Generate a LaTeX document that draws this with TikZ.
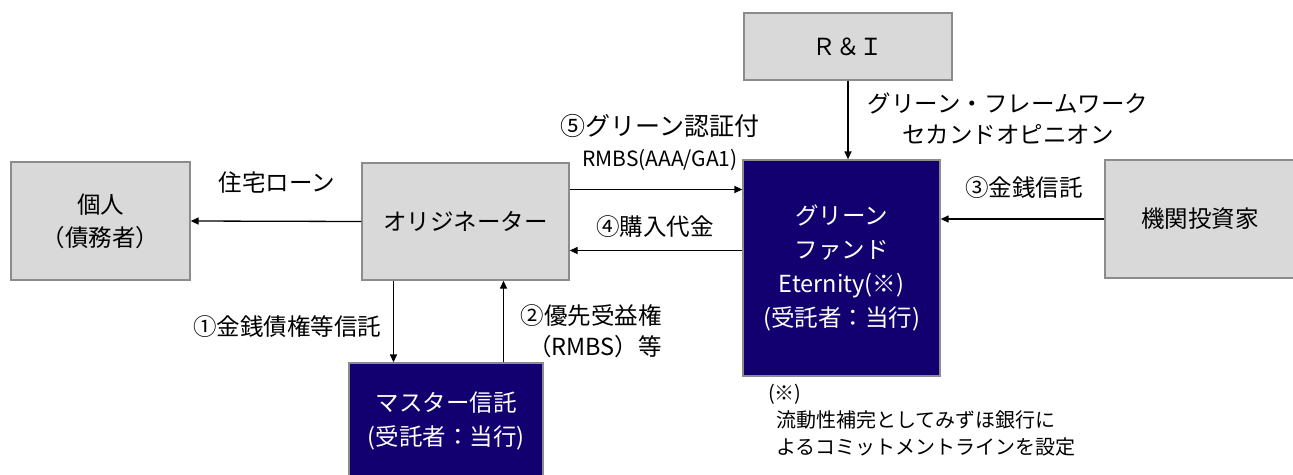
\documentclass[tikz,border=0pt]{standalone}
\usepackage{fontspec}
\setmainfont{Noto Sans CJK JP}
\usetikzlibrary{arrows.meta}

\definecolor{boxgray}{RGB}{217,217,217}
\definecolor{edgegray}{RGB}{140,140,140}
\definecolor{fundnavy}{RGB}{18,0,112}

\begin{document}
\begin{tikzpicture}[x=1pt,y=-1pt,>={Triangle[length=8pt,width=7pt]},
    graybox/.style={draw=edgegray,line width=1.3pt,fill=boxgray,inner sep=0pt,align=center,font=\fontsize{23.5}{33}\selectfont},
    navybox/.style={draw=edgegray,line width=1.3pt,fill=fundnavy,text=white,inner sep=0pt,align=center,font=\fontsize{23.5}{34}\selectfont},
    lbl/.style={inner sep=0pt,align=center,font=\fontsize{23.5}{31}\selectfont},
    flow/.style={->,line width=1.3pt}]
    \useasboundingbox (0,0) rectangle (1293,474);

    \node[graybox,minimum width=179pt,minimum height=118pt] (kojin) at (100.5,221) {個人\\（債務者）};
    \node[graybox,minimum width=207pt,minimum height=117pt] (orig) at (465.5,221.5) {オリジネーター};
    \node[navybox,minimum width=194pt,minimum height=116pt] (master) at (446,421) {マスター信託\\(受託者：当行)};
    \node[navybox,minimum width=197pt,minimum height=216pt] (fund) at (841.5,268) {グリーン\\ファンド\\Eternity(※)\\(受託者：当行)};
    \node[graybox,minimum width=208pt,minimum height=67pt] (ri) at (848,46.5) {Ｒ＆Ｉ};
    \node[graybox,minimum width=190pt,minimum height=118pt] (inv) at (1200,219) {機関投資家};

    \draw[flow] (orig.west) -- (kojin.east);
    \draw[flow] (ri.south) -- (ri.south |- fund.north);
    \draw[flow] ([yshift=32pt]orig.east) -- ([yshift=32pt]orig.east -| fund.west);
    \draw[flow] ([yshift=-29pt]orig.east -| fund.west) -- ([yshift=-29pt]orig.east);
    \draw[flow] (inv.west) -- (inv.west -| fund.east);
    \draw[flow] ([xshift=-72pt]orig.south) -- ([xshift=-72pt]orig.south |- master.north);
    \draw[flow] ([xshift=38pt]orig.south |- master.north) -- ([xshift=38pt]orig.south);

    % labels
    \node[lbl] (loan) at (277,183) {住宅ローン};
    \node[lbl,font=\fontsize{25}{31}\selectfont] (cert) at (660,142) {⑤グリーン認証付\\{\fontsize{21}{31}\selectfont RMBS(AAA/GA1)}};
    \node[lbl] (price) at (655,227) {④購入代金};
    \node[lbl] (opinion) at (1008,119) {グリーン・フレームワーク\\セカンドオピニオン};
    \node[lbl] (trust) at (1024,188) {③金銭信託};
    \node[lbl] (claims) at (287,327) {①金銭債権等信託};
    \node[lbl,align=right,anchor=east] (senior) at (662,331) {②優先受益権\\（RMBS）等};
    \node[lbl,align=left,anchor=north west,font=\fontsize{20}{27}\selectfont] (note) at (768,384) {(※)\\\hspace*{8pt}流動性補完としてみずほ銀行に\\\hspace*{8pt}よるコミットメントラインを設定};
\end{tikzpicture}
\end{document}
